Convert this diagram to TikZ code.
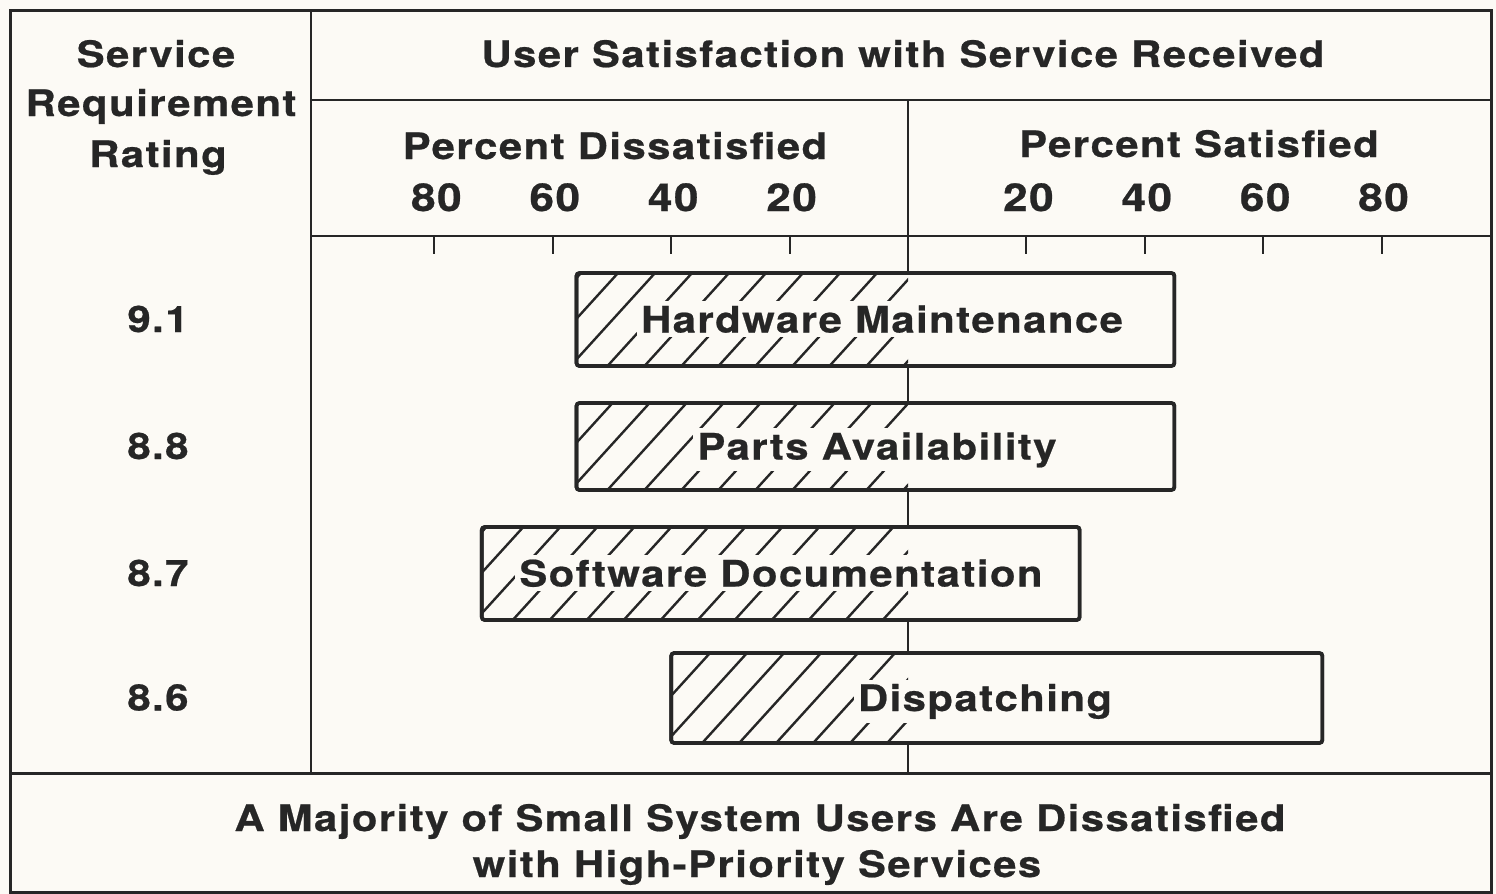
\documentclass[tikz,border=0pt]{standalone}
\usepackage{fontspec}
\newfontfamily\chartfont{TeX Gyre Heros}[LetterSpace=4, FakeStretch=1.15, FakeBold=0.6]
\definecolor{ink}{HTML}{262626}
\definecolor{paper}{HTML}{FCFAF5}
\begin{document}
\begin{tikzpicture}[x=0.5pt,y=-0.5pt,
  txt/.style={font=\chartfont\bfseries\fontsize{18.2}{20}\selectfont, text=ink, inner sep=0pt, anchor=base},
  num/.style={txt, font=\chartfont\bfseries\fontsize{19.2}{20}\selectfont},
  frame/.style={draw=ink, line width=1.5pt},
  rule/.style={draw=ink, line width=1.2pt},
  tick/.style={draw=ink, line width=1pt},
  barbox/.style={draw=ink, line width=1.8pt, fill=paper, rounded corners=1.5pt},
  hatch/.style={draw=ink, line width=1.2pt},
  barlabel/.style={txt, fill=paper, inner sep=2pt}]
% page
\fill[paper] (0,0) rectangle (1496,894);
\useasboundingbox (0,0) rectangle (1496,894);
% table frame
\draw[frame] (10,10) rectangle (1491,892);
\draw[rule] (311,10) -- (311,773);
\draw[rule] (311,100) -- (1491,100);
\draw[rule] (311,236) -- (1491,236);
\draw[frame] (10,773) -- (1491,773);
\coordinate (zerotop) at (908,100);
\coordinate (zerobot) at (908,773);
\draw[rule] (zerotop) -- (zerobot);
% axis ticks and numbers (5.92 px per percent)
\foreach \v in {20,40,60,80} {
  \draw[tick] ({908-5.92*\v},236) -- ++(0,18);
  \draw[tick] ({908+5.92*\v},236) -- ++(0,18);
  \node[num] (dis\v) at ({908-5.92*\v+2},211) {\v};
  \node[num] (sat\v) at ({908+5.92*\v+2},211) {\v};
}
% headings
\node[txt] (h1) at (156,67) {Service};
\node[txt] (h2) at (161,116) {Requirement};
\node[txt] (h3) at (158,167) {Rating};
\node[txt] (title) at (903,67) {User Satisfaction with Service Received};
\node[txt] (pdis) at (615,159) {Percent Dissatisfied};
\node[txt] (psat) at (1199,157) {Percent Satisfied};
% bars: name / percent dissatisfied / percent satisfied / top / bottom / label / label x / rating
\foreach \n/\l/\r/\t/\b/\lab/\lx/\rt in {
  hw/56/45/273/366/Hardware Maintenance/882/9.1,
  pa/56/45/403/490/Parts Availability/877/8.8,
  sd/72/29/527/620/Software Documentation/781/8.7,
  di/40/70/653/743/Dispatching/985/8.6} {
  \pgfmathsetmacro\xl{908-5.92*\l}
  \pgfmathsetmacro\xr{908+5.92*\r}
  \pgfmathsetmacro\hh{\b-\t}
  \draw[barbox] (\xl,\t) rectangle (\xr,\b);
  \begin{scope}
    \clip (\xl,\t) rectangle (908,\b);
    \foreach \k in {0,...,15}
      \draw[hatch] ({\xl-80+37*\k},\b) -- ++({\hh/1.1},-\hh);
  \end{scope}
  \draw[barbox, fill=none] (\xl,\t) rectangle (\xr,\b);
  \node[barlabel] (\n) at (\lx,{(\t+\b)/2+13}) {\lab};
  \node[txt] (r\n) at (158,{(\t+\b)/2+12.5}) {\rt};
}
% conclusion
\node[txt] (c1) at (760,831) {A Majority of Small System Users Are Dissatisfied};
\node[txt] (c2) at (757,877) {with High-Priority Services};
\end{tikzpicture}
\end{document}
